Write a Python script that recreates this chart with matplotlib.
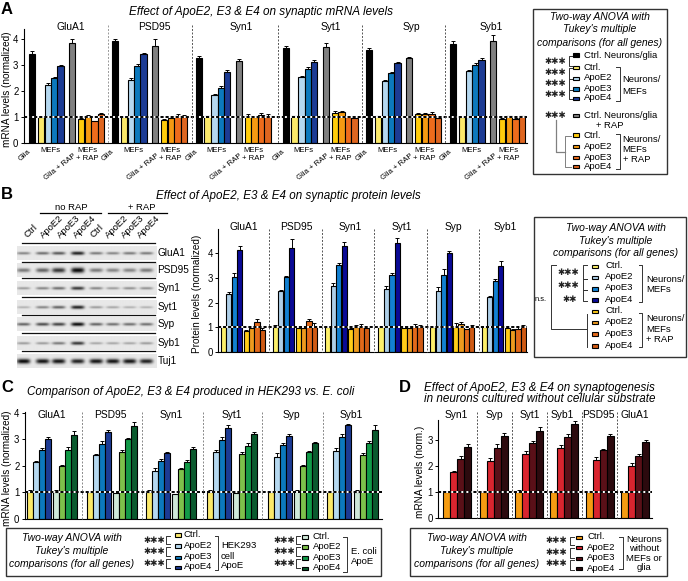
import numpy as np
import matplotlib
matplotlib.use("Agg")
import matplotlib.pyplot as plt
from matplotlib.patches import Rectangle

plt.rcParams['font.family'] = ['Liberation Sans', 'DejaVu Sans']

W, H = 688, 581

# panel A: Glia, Ctrl, E2, E3, E4, Glia+RAP, then four +RAP bars
a_genes = ["GluA1", "PSD95", "Syn1", "Syt1", "Syp", "Syb1"]
a_vals = [[3.42, 1.0, 2.23, 2.5, 2.97, 3.86, .93, 1.05, .83, 1.1],
          [3.92, 1.0, 2.43, 2.95, 3.43, 3.75, .87, .95, 1.03, 1.0],
          [3.27, 1.02, 1.86, 2.13, 2.73, 3.16, 1.03, 1.0, 1.07, 1.05],
          [3.68, 1.02, 2.54, 2.85, 3.11, 3.72, 1.13, 1.17, 1.0, .97],
          [3.59, 1.02, 2.39, 2.7, 3.07, 3.29, 1.12, 1.1, 1.1, .97],
          [3.82, 1.0, 2.77, 3.02, 3.2, 3.94, .93, 1.03, .92, 1.02]]
a_errs = [[.12, .02, .07, .04, .04, .17, .03, .02, .02, .06],
          [.1, .02, .07, .08, .05, .25, .05, .03, .07, .08],
          [.07, .02, .04, .06, .08, .07, .08, .03, .08, .05],
          [.05, .02, .04, .06, .07, .12, .08, .07, .03, .02],
          [.06, .02, .02, .03, .05, .03, .03, .03, .08, .03],
          [.1, .01, .05, .05, .08, .22, .02, .02, .03, .02]]
a_colors = ["#000000", "#FBE96A", "#B5D8F0", "#0C79BD", "#1C3B94", "#808080",
            "#FFCC0C", "#F59A12", "#EE6C1C", "#DF6620"]

# panel B: Ctrl, E2, E3, E4, then four +RAP bars
b_vals = [[1.0, 2.34, 3.04, 4.13, .85, .96, 1.2, .91],
          [1.0, 2.47, 3.04, 4.22, .98, .97, 1.25, 1.03],
          [1.0, 2.66, 3.54, 4.3, .95, 1.0, 1.02, .98],
          [1.0, 2.55, 3.12, 4.42, .96, .97, 1.0, 1.0],
          [1.0, 2.47, 3.12, 4.0, 1.0, 1.14, .93, 1.0],
          [1.0, 2.22, 2.87, 3.5, .96, .88, .95, 1.05]]
b_errs = [[.03, .1, .15, .18, .03, .08, .12, .06],
          [.08, .06, .06, .38, .05, .06, .1, .15],
          [.05, .15, .06, .17, .03, .09, .1, .07],
          [.05, .11, .1, .22, .03, .1, .12, .1],
          [.02, .15, .24, .09, .18, .06, .02, .09],
          [.06, .06, .1, .2, .04, .06, .08, .03]]
b_colors = ["#FDF06A", "#AECFE8", "#1281D2", "#0A0A96",
            "#FFCC18", "#EE9A1E", "#E2691A", "#CF5A14"]

# panel C: HEK293 ApoE then E. coli ApoE
c_vals = [[1.0, 2.13, 2.58, 3.02, 1.0, 1.99, 2.58, 3.14],
          [1.02, 2.4, 2.82, 3.26, .97, 2.52, 3.0, 3.49],
          [1.02, 1.79, 2.16, 2.47, .93, 1.86, 2.15, 2.64],
          [1.0, 2.5, 2.97, 3.43, .97, 2.46, 2.73, 3.2],
          [1.0, 2.34, 2.77, 3.11, 1.03, 1.99, 2.52, 2.84],
          [1.0, 2.55, 3.07, 3.53, 1.0, 2.39, 2.84, 3.35]]
c_errs = [[.07, .06, .07, .08, .1, .03, .14, .16],
          [.03, .05, .12, .1, .02, .08, .05, .15],
          [.05, .12, .08, .06, .02, .04, .07, .05],
          [.07, .08, .13, .11, .02, .06, .12, .09],
          [.05, .15, .07, .07, .05, .04, .03, .06],
          [.05, .12, .13, .06, .1, .09, .1, .17]]
c_colors = ["#FBE96A", "#B5D8F0", "#0C79BD", "#1C3B94",
            "#CFE8D8", "#7DC14B", "#129A48", "#0A5A2E"]

# panel D
d_genes = ["Syn1", "Syp", "Syt1", "Syb1", "PSD95", "GluA1"]
d_vals = [[1.0, 1.75, 2.26, 2.74],
          [1.0, 2.19, 2.69, 3.16],
          [1.0, 2.44, 2.88, 3.34],
          [1.0, 2.67, 3.09, 3.61],
          [1.0, 2.24, 2.59, 3.13],
          [1.0, 2.0, 2.36, 2.9]]
d_errs = [[.04, .04, .1, .1],
          [.01, .1, .15, .1],
          [.07, .14, .06, .15],
          [.06, .12, .11, .11],
          [.03, .09, .07, .07],
          [.03, .1, .09, .08]]
d_colors = ["#F59C12", "#D9252F", "#5A1018", "#2C0A0E"]

# western blot band strength per lane
blot_names = ["GluA1", "PSD95", "Syn1", "Syt1", "Syp", "Syb1", "Tuj1"]
blot_bands = [[.45, .55, .65, .9, .5, .45, .5, .5],
              [.5, .6, .8, 1, .5, .45, .45, .5],
              [.35, .45, .55, .8, .45, .35, .4, .4],
              [.25, .45, .6, .9, .35, .3, .25, .25],
              [.6, .7, .75, 1, .6, .55, .55, .55],
              [.35, .35, .5, .8, .3, .3, .3, .35],
              [1, .95, .95, .9, .95, .95, .95, .9]]
blot_lanes = ["Ctrl", "ApoE2", "ApoE3", "ApoE4", "Ctrl", "ApoE2", "ApoE3", "ApoE4"]

fig = plt.figure(figsize=(W / 100, H / 100), dpi=100)


def bar_axes(x0, x1, y_top, y_zero, unit, ticks, ylabel, ylabel_x):
    ax = fig.add_axes([x0 / W, 1 - y_zero / H, (x1 - x0) / W, (y_zero - y_top) / H])
    ax.set_xlim(x0, x1)
    ax.set_ylim(0, (y_zero - y_top) / unit)
    ax.patch.set_alpha(0)
    ax.spines['top'].set_visible(False)
    ax.spines['right'].set_visible(False)
    ax.spines['left'].set_linewidth(0.8)
    ax.spines['bottom'].set_linewidth(0.8)
    ax.set_xticks([])
    ax.set_yticks(ticks)
    ax.tick_params(axis='y', labelsize=6.9, length=2.5, width=0.7, pad=1.5)
    fig.text(ylabel_x / W, 1 - (y_zero - (y_zero - y_top) * 0.47) / H, ylabel, rotation=90,
             ha='center', va='center', fontsize=7.2)
    return ax


def draw_bars(ax, start, slots, width, vals, errs, colors):
    xs = start + np.array(slots) + width / 2
    ax.bar(xs, vals, width=width, color=colors, edgecolor='black', linewidth=0.8, zorder=2)
    ax.errorbar(xs, vals, yerr=[np.zeros(len(errs)), errs], fmt='none', ecolor='black',
                elinewidth=0.7, capsize=1.6, capthick=0.7, zorder=3)


def one_line(ax):
    ax.axhline(1, color='white', lw=1.4, zorder=4)
    ax.axhline(1, color='black', lw=1.4, dashes=(1.6, 1.0), zorder=5)


# overlay in pixel coordinates for everything that is not a bar
ov = fig.add_axes([0, 0, 1, 1], zorder=10)
ov.patch.set_alpha(0)
ov.axis('off')


def txt(x, y, s, size=6.8, ha='left', style='normal', **kw):
    ov.text(x, y, s, fontsize=size, ha=ha, va='center', style=style, **kw)


def vline_dash(x, y0, y1, color='#555555'):
    ov.plot([x, x], [y0, y1], color=color, lw=0.7, dashes=(2, 1.6))


def box(x0, y0, x1, y1):
    ov.add_patch(Rectangle((x0, y0), x1 - x0, y1 - y0, fc='white', ec='#333333', lw=1.0, zorder=1))


def swatch(x, y, color, w=6, h=3.4):
    ov.add_patch(Rectangle((x, y - h / 2), w, h, fc=color, ec='black', lw=0.8, zorder=3))


def bracket(x0, x1, y0, y1, color='#333333'):
    # x0 is the spine, x1 the tick ends
    ov.plot([x1, x0, x0, x1], [y0, y0, y1, y1], color=color, lw=0.7, zorder=2)


def stars(x, y, n=3):
    ov.text(x, y, "\u2731" * n, fontsize=6.2, ha='center', va='center', color='#222222',
            family='DejaVu Sans')


anova = ["Two-way ANOVA with", "Tukey's multiple", "comparisons (for all genes)"]
title_size = 8.4
anova_size = 7.45
xlab_size = 5.6

# ---- panel A
ax = bar_axes(24, 527, 29, 142.7, 25.85, [0, 1, 2, 3, 4], "mRNA levels (normalized)", 7)
a_start = [29, 112, 195.7, 282.7, 366, 450]
a_slots = [0, 8.67, 15.67, 22.33, 28.33, 40, 49, 55.67, 62.33, 68.67]
for i in range(6):
    draw_bars(ax, a_start[i], a_slots, 6.4, a_vals[i], a_errs[i], a_colors)
one_line(ax)
for x in [107.7, 191.7, 278.3, 361.7, 445.3]:
    vline_dash(x, 25, 143, color='#999999' if x < 110 else '#555555')
for x, g in zip([70.7, 154, 241.7, 330.7, 411.7, 491.7], a_genes):
    txt(x, 26.5, g, size=7.4, ha='center')
for s in a_start:
    ov.text(s + 1, 151, "Glia", fontsize=xlab_size, rotation=42, ha='right', va='center', rotation_mode='anchor')
    txt(s + 21, 150.7, "MEFs", size=xlab_size, ha='center')
    ov.text(s + 46, 155, "Glia + RAP", fontsize=xlab_size, rotation=38, ha='right', va='center', rotation_mode='anchor')
    txt(s + 58, 150, "MEFs", size=xlab_size, ha='center')
    txt(s + 58, 158.3, "+ RAP", size=xlab_size, ha='center')
txt(261, 12.5, "Effect of ApoE2, E3 & E4 on synaptic mRNA levels", size=title_size + 0.05, ha='center', style='italic')
txt(1, 9.5, "A", size=12, weight='bold')

box(532.7, 9, 667.3, 174.3)
for y, s in zip([16.7, 29.3, 42.7], anova):
    txt(599.5, y, s, size=anova_size, ha='center', style='italic')
for y in [61, 72.3, 84, 94.3]:
    stars(555, y)
for y0, y1 in [(56, 66), (68, 79), (79, 90), (90, 99)]:
    bracket(569, 572, y0, y1)
swatch(573, 55, "#000000")
for y, s, c in zip([67.7, 78.3, 89, 98.3], ["Ctrl.", "ApoE2", "ApoE3", "ApoE4"], a_colors[1:5]):
    swatch(573, y, c)
    txt(583.5, y - 0.5, s)
txt(583.5, 55, "Ctrl. Neurons/glia")
bracket(619.5, 616, 66.5, 100.5)
txt(622.7, 80, "Neurons/")
txt(622.7, 92, "MEFs")
stars(555, 115.7)
swatch(573, 115.7, "#808080")
txt(583.5, 115.7, "Ctrl. Neurons/glia")
txt(610, 125.5, "+ RAP", ha='center')
ov.plot([556, 556, 565], [120, 151.5, 151.5], color='#808080', lw=0.9)
bracket(565, 571, 136, 166.5, color='#808080')
for y, s, c in zip([135, 146.7, 157.3, 166.7], ["Ctrl.", "ApoE2", "ApoE3", "ApoE4"], a_colors[6:]):
    swatch(573, y, c)
    txt(583.5, y, s)
bracket(619.5, 616, 133.5, 169)
txt(622.7, 139.5, "Neurons/")
txt(622.7, 149.5, "MEFs")
txt(622.7, 160, "+ RAP")

# ---- panel B, blot first
txt(1, 194.5, "B", size=12, weight='bold')
txt(288, 195.5, "Effect of ApoE2, E3 & E4 on synaptic protein levels", size=title_size, ha='center', style='italic')
txt(71, 207.7, "no RAP", size=6.8, ha='center')
txt(141.7, 207.7, "+ RAP", size=6.8, ha='center')
ov.plot([40, 100.7], [212.7, 212.7], color='black', lw=0.9)
ov.plot([108, 167], [212.7, 212.7], color='black', lw=0.9)
lane_text_x = [28.5, 45, 61.7, 78.3, 95, 110, 126, 141.7]
for x, s in zip(lane_text_x, blot_lanes):
    ov.text(x, 239.5, s, fontsize=6.8, rotation=45, ha='left', va='bottom', rotation_mode='anchor')
lane_x = [23.3, 42.3, 58.3, 77.3, 95.7, 112.3, 129, 145.7]
strip_top = [246, 263.3, 280.7, 300, 317.3, 336, 354]
rule_y = [243.3, 261.7, 277.7, 297.3, 315.3, 333.3, 351.3]
yy = np.arange(0, 14, 0.5)
xx = np.arange(17, 156.5, 0.5)
for i, name in enumerate(blot_names):
    thick = 2.2 if name == "PSD95" else (2.0 if name == "Tuj1" else 1.5)
    img = np.full((len(yy), len(xx)), 0.91)
    for lane, strength in zip(lane_x, blot_bands[i]):
        gx = np.exp(-((xx - lane) / 6.6) ** 4)
        gy = np.exp(-((yy - 7) / (thick * (0.6 + 0.6 * strength))) ** 2)
        img -= 0.88 * strength * np.outer(gy, gx)
    ov.imshow(np.clip(img, 0, 1), cmap='gray', vmin=0, vmax=1, aspect='auto', interpolation='bilinear',
              extent=[17, 156.5, strip_top[i] + 14, strip_top[i]], zorder=1)
    ov.plot([21.7, 155], [rule_y[i], rule_y[i]], color='#111111', lw=0.9, zorder=2)
    txt(157.5, strip_top[i] + 7, name, size=7.2)

ax = bar_axes(218.3, 527, 229, 352, 24.67, [0, 1, 2, 3, 4], "Protein levels (normalized)", 197)
b_start = [220.7, 272.7, 325, 378.3, 430, 481.7]
b_slots = [0, 5.5, 11, 16.5, 23, 28.3, 33.7, 39]
for i in range(6):
    draw_bars(ax, b_start[i], b_slots, 5.2, b_vals[i], b_errs[i], b_colors)
one_line(ax)
for x in [268.7, 321.7, 374.3, 426.7, 478.7]:
    vline_dash(x, 229, 352)
for x, g in zip([244, 296, 350, 401.7, 453, 505.7], a_genes):
    txt(x, 226.7, g, size=7.4, ha='center')

box(534, 217.3, 686, 356.7)
for y, s in zip([227.7, 240.7, 253.3], anova):
    txt(615.7, y, s, size=anova_size, ha='center', style='italic')
b_leg_y = [266.7, 277.7, 289, 300, 311.7, 322.7, 334, 346]
for y, s, c in zip(b_leg_y, ["Ctrl.", "ApoE2", "ApoE3", "ApoE4"] * 2, b_colors):
    swatch(591.7, y, c)
    txt(605, y - 1, s)
stars(568, 272.3)
stars(568, 286)
stars(570, 299.3, 2)
for y0, y1 in [(265, 279), (279, 290), (290, 301)]:
    bracket(583, 587, y0, y1)
txt(541, 299.3, "n.s.", size=5.4, ha='center')
ov.plot([556, 551, 551, 586.7], [265, 265, 329.3, 329.3], color='#333333', lw=0.7)
ov.plot([586.7, 586.7], [314, 346.7], color='#333333', lw=0.7)
bracket(642, 638.5, 265, 301.7)
bracket(642, 638.5, 312.7, 347.3)
txt(646, 279.3, "Neurons/")
txt(646, 290, "MEFs")
txt(646, 318.3, "Neurons/")
txt(646, 329, "MEFs")
txt(646, 339, "+ RAP")

# ---- panel C
txt(1, 387, "C", size=12, weight='bold')
txt(190.5, 392, "Comparison of ApoE2, E3 & E4 produced in HEK293 vs. E. coli", size=title_size, ha='center', style='italic')
ax = bar_axes(25, 381.7, 412, 518.7, 26.5, [0, 1, 2, 3, 4], "mRNA levels (normalized)", 6.7)
c_start = [26.7, 86.7, 145.7, 206.7, 267.7, 327.3]
c_slots = [0, 6, 12, 18, 26.7, 32.7, 38.7, 44.7]
for i in range(6):
    draw_bars(ax, c_start[i], c_slots, 5.9, c_vals[i], c_errs[i], c_colors)
one_line(ax)
for x in [82, 142.3, 202.7, 261.7, 322.7]:
    vline_dash(x, 412, 518.7, color='#888888')
for x, g in zip([51.7, 110.7, 171.7, 231.7, 291.7, 351.7], a_genes):
    txt(x, 414.5, g, size=7.4, ha='center')

box(5.7, 528, 381, 576)
for y, s in zip([538, 551, 563.7], anova):
    txt(71.7, y, s, size=anova_size, ha='center', style='italic')
for y in [540.7, 551.7, 563.3]:
    stars(154, y)
    stars(284.3, y)
for y0, y1 in [(536, 544), (547, 556), (559, 568)]:
    bracket(166, 170, y0, y1)
    bracket(295.5, 299.5, y0, y1)
for y, s, c in zip([535, 546, 557.3, 567.3], ["Ctrl.", "ApoE2", "ApoE3", "ApoE4"], c_colors[:4]):
    swatch(174.5, y, c)
    txt(184, y - 0.5, s)
for y, s, c in zip([537, 547, 558, 568.3], ["Ctrl.", "ApoE2", "ApoE3", "ApoE4"], c_colors[4:]):
    swatch(302.3, y, c)
    txt(312.7, y - 0.5, s)
bracket(218, 214.5, 536, 570)
bracket(346.7, 343, 537, 571.5)
txt(221, 546, "HEK293")
txt(221, 556.3, "cell")
txt(221, 566, "ApoE")
txt(350.7, 551, "E. coli")
txt(350.7, 561.7, "ApoE")

# ---- panel D
txt(399, 387, "D", size=12, weight='bold')
txt(539.5, 387.7, "Effect of ApoE2, E3 & E4 on synaptogenesis", size=title_size, ha='center', style='italic')
txt(540, 399.3, "in neurons cultured without cellular substrate", size=title_size, ha='center', style='italic')
ax = bar_axes(438.3, 652, 420, 518.3, 26.2, [0, 1, 2, 3], "mRNA levels (norm.)", 420)
d_start = [443.3, 480, 515.3, 550.3, 585.7, 621.3]
d_slots = [0, 7, 14, 21]
for i in range(6):
    draw_bars(ax, d_start[i], d_slots, 6.8, d_vals[i], d_errs[i], d_colors)
one_line(ax)
for x in [476.7, 511.7, 547.3, 582.3, 617.3]:
    vline_dash(x, 412, 518.3)
for x, g in zip([456.7, 494.3, 529.3, 562.7, 598.3, 635], d_genes):
    txt(x, 414.5, g, size=7.4, ha='center')

box(410, 528, 666.7, 576)
for y, s in zip([538, 551, 563.7], anova):
    txt(477, y, s, size=anova_size, ha='center', style='italic')
for y in [540.7, 552.7, 564]:
    stars(556.7, y)
for y0, y1 in [(537, 545), (548, 558), (560, 569.5)]:
    bracket(570, 574, y0, y1)
for y, s, c in zip([537.3, 547.7, 558.3, 568.7], ["Ctrl.", "ApoE2", "ApoE3", "ApoE4"], d_colors):
    swatch(575.7, y, c)
    txt(587.3, y - 0.5, s)
bracket(622.7, 619, 536.7, 568.5)
for y, s in zip([539.7, 548.7, 558.3, 567.7], ["Neurons", "without", "MEFs or", "glia"]):
    txt(644, y, s, ha='center')

ov.set_xlim(0, W)
ov.set_ylim(H, 0)

fig.savefig("out.png", dpi=100)
